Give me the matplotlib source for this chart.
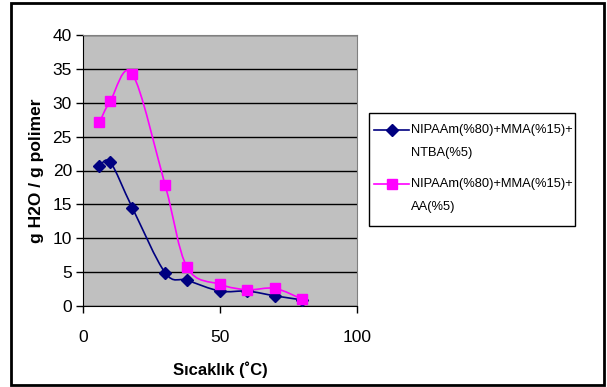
import matplotlib
matplotlib.use("Agg")
import matplotlib.pyplot as plt
import matplotlib.patches as mpatches
from matplotlib.path import Path
from matplotlib.lines import Line2D

# temperature (C) and swelling (g H2O / g polymer)
temp = [6, 10, 18, 30, 38, 50, 60, 70, 80]
ntba = [20.6, 21.2, 14.5, 4.9, 3.8, 2.2, 2.2, 1.5, 0.9]
aa = [27.1, 30.3, 34.3, 17.8, 5.7, 3.2, 2.4, 2.6, 1.0]

labels = [["NIPAAm(%80)+MMA(%15)+", "NTBA(%5)"],
          ["NIPAAm(%80)+MMA(%15)+", "AA(%5)"]]
colors = ["#000080", "#FF00FF"]
markers = ["D", "s"]

x_ticks = [0, 50, 100]
y_ticks = [0, 5, 10, 15, 20, 25, 30, 35, 40]

FONT = ["Liberation Sans", "DejaVu Sans"]
W, H = 607, 387


def fx(px):
    return px / W


def fy(py):
    return 1 - py / H


def smooth_path(xs, ys):
    # Excel-style smoothed line: cardinal spline drawn as cubic beziers
    pts = list(zip(xs, ys))
    verts = [pts[0]]
    codes = [Path.MOVETO]
    n = len(pts)
    for i in range(n - 1):
        p0 = pts[i - 1] if i > 0 else pts[i]
        p1 = pts[i]
        p2 = pts[i + 1]
        p3 = pts[i + 2] if i + 2 < n else pts[i + 1]
        c1 = (p1[0] + (p2[0] - p0[0]) / 6, p1[1] + (p2[1] - p0[1]) / 6)
        c2 = (p2[0] - (p3[0] - p1[0]) / 6, p2[1] - (p3[1] - p1[1]) / 6)
        verts += [c1, c2, p2]
        codes += [Path.CURVE4] * 3
    return Path(verts, codes)


fig = plt.figure(figsize=(W / 100, H / 100), dpi=100)
ax = fig.add_axes([fx(83), fy(306), fx(357 - 83), (306 - 35) / H])
ax.set_facecolor("#C0C0C0")

for ys, c, m in zip([ntba, aa], colors, markers):
    ax.add_patch(mpatches.PathPatch(smooth_path(temp, ys), facecolor="none",
                                    edgecolor=c, lw=1.2, zorder=3))
    ms = 6 if m == "D" else 7
    ax.plot(temp, ys, ls="none", marker=m, color=c, ms=ms, zorder=4)

ax.set_xlim(0, 100)
ax.set_ylim(0, 40)
ax.set_xticks(x_ticks)
ax.set_yticks(y_ticks)
ax.yaxis.grid(True, color="black", lw=1)
ax.set_axisbelow(True)
for s in ["top", "right"]:
    ax.spines[s].set_color("#808080")
for s in ["left", "bottom"]:
    ax.spines[s].set_color("black")
ax.tick_params(direction="out", length=5, width=1, colors="black", pad=3)
ax.tick_params(axis="x", pad=12)
for lab in ax.get_xticklabels() + ax.get_yticklabels():
    lab.set_family(FONT)
    lab.set_fontsize(12.5)

ax.set_xlabel("Sıcaklık (˚C)", family=FONT, fontsize=12, fontweight="bold",
              labelpad=12)
ax.set_ylabel("g H2O / g polimer", family=FONT, fontsize=12.5,
              fontweight="bold", labelpad=6)

# legend drawn by hand so the marker sits on the first text line, as in Excel
fig.add_artist(mpatches.Rectangle((fx(369), fy(226)), fx(575 - 369), (226 - 113) / H,
                                  transform=fig.transFigure, facecolor="white",
                                  edgecolor="black", lw=1))
for (l1, l2), c, m, y0 in zip(labels, colors, markers, [130, 184]):
    fig.add_artist(Line2D([fx(374), fx(409)], [fy(y0), fy(y0)], color=c, lw=1.2,
                          transform=fig.transFigure))
    fig.add_artist(Line2D([fx(391.5)], [fy(y0)], color=c, marker=m,
                          ms=6 if m == "D" else 7, transform=fig.transFigure))
    fig.text(fx(411), fy(y0), l1, family=FONT, fontsize=9.3, va="center")
    fig.text(fx(411), fy(y0 + 23), l2, family=FONT, fontsize=9.3, va="center")

# outer chart border
fig.add_artist(mpatches.Rectangle((fx(11), fy(385)), fx(593), 382 / H,
                                  transform=fig.transFigure, fill=False,
                                  edgecolor="black", lw=2))

fig.savefig("out.png", dpi=100)
